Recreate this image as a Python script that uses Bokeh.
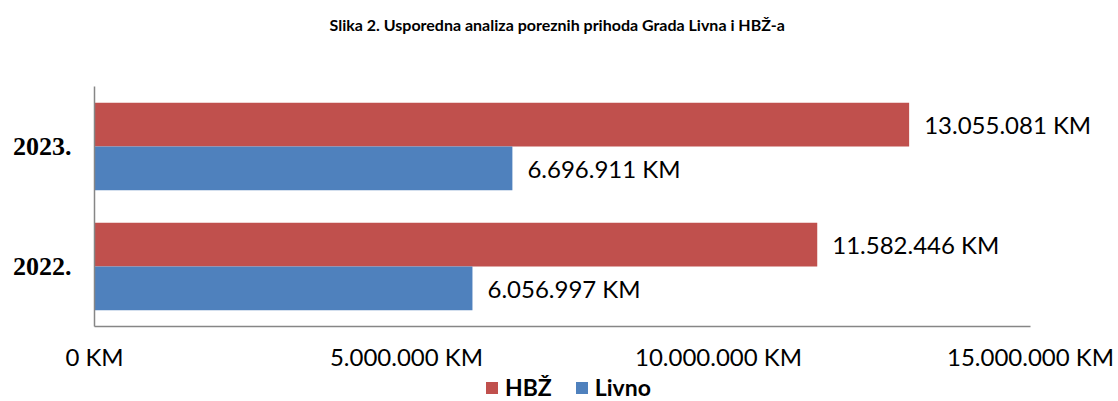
from bokeh.plotting import figure
from bokeh.layouts import column
from bokeh.models import (FactorRange, Range1d, FixedTicker, Legend, LegendItem,
                          ColumnDataSource)
from bokeh.transform import dodge
from bokeh.core.properties import value
from bokeh.embed import file_html
from bokeh.resources import INLINE

# ---- data ----
title_text = "Slika 2. Usporedna analiza poreznih prihoda Grada Livna i HBŽ-a"
years = ["2022.", "2023."]
series_names = ["HBŽ", "Livno"]
hbz = [11582446, 13055081]
livno = [6056997, 6696911]
x_ticks = [0, 5000000, 10000000, 15000000]
x_tick_labels = ["0 KM", "5.000.000 KM", "10.000.000 KM", "15.000.000 KM"]


def fmt(v):
    return f"{v:,}".replace(",", ".") + " KM"


src = ColumnDataSource(dict(
    year=years, hbz=hbz, livno=livno,
    hbz_lbl=[fmt(v) for v in hbz], livno_lbl=[fmt(v) for v in livno],
))

RED = "#C0504D"
BLUE = "#4F81BD"
AXIS = "#868686"
SANS = "Lato"

W = 1118
TITLE_H, CHART_H, LEGEND_H = 86, 287, 28
LEFT, RIGHT, BOTTOM = 94, 2, 47
AXIS_PX = 936  # pixel length of the drawn value axis (0 .. last tick)
frame_w = W - LEFT - RIGHT


def blank(fig):
    fig.axis.visible = False
    fig.grid.visible = False
    fig.outline_line_color = None
    fig.background_fill_color = "white"
    fig.border_fill_color = "white"


# ---- title strip ----
p0 = figure(width=W, height=TITLE_H, x_range=Range1d(0, 1), y_range=Range1d(0, 1),
            min_border=0, output_backend="svg", toolbar_location=None,
            title=title_text)
blank(p0)
p0.title.align = "left"
p0.title.offset = 235
p0.title.vertical_align = "top"
p0.title.text_font = SANS
p0.title.text_font_style = "bold"
p0.title.text_font_size = "16px"
p0.title.text_color = "#000000"
p0.title.standoff = 28

# ---- chart ----
p = figure(
    y_range=FactorRange(factors=years, range_padding=0),
    x_range=Range1d(0, x_ticks[-1] * frame_w / AXIS_PX),
    width=W, height=CHART_H,
    min_border_left=LEFT, min_border_right=RIGHT,
    min_border_top=0, min_border_bottom=BOTTOM,
    output_backend="svg", toolbar_location=None,
)
p.background_fill_color = "white"
p.border_fill_color = "white"
p.outline_line_color = None
p.xgrid.grid_line_color = None
p.ygrid.grid_line_color = None

BH = 0.364
r1 = p.hbar(y=dodge("year", BH / 2, range=p.y_range), left=0, right="hbz",
            height=BH, fill_color=RED, line_color=None, source=src)
r2 = p.hbar(y=dodge("year", -BH / 2, range=p.y_range), left=0, right="livno",
            height=BH, fill_color=BLUE, line_color=None, source=src)

for col, off in (("hbz", BH / 2), ("livno", -BH / 2)):
    p.text(x=col, y=dodge("year", off, range=p.y_range), text=col + "_lbl",
           x_offset=15, text_baseline="middle", text_align="left",
           text_font=value(SANS), text_font_size="24px", text_color="#000000",
           source=src)

# x axis
xa = p.xaxis[0]
xa.bounds = (0, x_ticks[-1])
xa.ticker = FixedTicker(ticks=x_ticks)
xa.major_label_overrides = {t: l for t, l in zip(x_ticks, x_tick_labels)}
xa.major_tick_line_color = None
xa.minor_tick_line_color = None
xa.axis_line_color = AXIS
xa.axis_line_width = 1.5
xa.major_label_text_font = SANS
xa.major_label_text_font_size = "24px"
xa.major_label_text_color = "#000000"
xa.major_label_standoff = 9

# y axis
ya = p.yaxis[0]
ya.major_tick_line_color = None
ya.minor_tick_line_color = None
ya.axis_line_color = AXIS
ya.axis_line_width = 1.5
ya.major_label_text_font = "Liberation Serif"
ya.major_label_text_font_style = "bold"
ya.major_label_text_font_size = "26px"
ya.major_label_text_color = "#000000"
ya.major_label_standoff = 17

# ---- legend strip below the chart (frame aligned with the chart's frame) ----
p2 = figure(width=W, height=LEGEND_H, x_range=p.x_range, y_range=p.y_range,
            min_border=0, output_backend="svg", toolbar_location=None)
blank(p2)
k1 = p2.hbar(y=dodge("year", BH / 2, range=p2.y_range), left=0, right="hbz",
             height=BH, fill_color=RED, line_color=None, source=src,
             visible=False)
k2 = p2.hbar(y=dodge("year", -BH / 2, range=p2.y_range), left=0, right="livno",
             height=BH, fill_color=BLUE, line_color=None, source=src,
             visible=False)

legend = Legend(
    items=[LegendItem(label=series_names[0], renderers=[k1]),
           LegendItem(label=series_names[1], renderers=[k2])],
    orientation="horizontal", location=(390, 0),
    label_text_font=SANS, label_text_font_style="bold",
    label_text_font_size="23px", label_text_color="#000000",
    glyph_width=15, glyph_height=15, label_standoff=6, spacing=22,
    padding=0, margin=0, border_line_color=None, background_fill_alpha=0,
    inactive_fill_alpha=0,
)
p2.add_layout(legend, "center")

open("out.html", "w").write(file_html(column(p0, p, p2, spacing=0), INLINE))
